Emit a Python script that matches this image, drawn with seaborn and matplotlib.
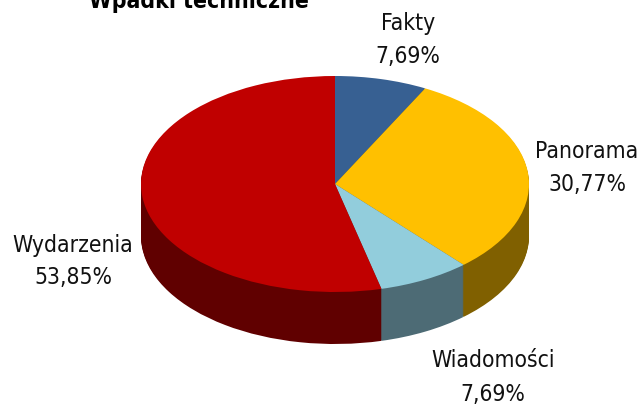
import matplotlib
matplotlib.use("Agg")
import matplotlib.pyplot as plt
import seaborn as sns

sns.set_theme(style="white")
plt.rcParams['font.family'] = ['DejaVu Sans']

categories = ["Fakty", "Panorama", "Wiadomości", "Wydarzenia"]
values = [7.69, 30.77, 7.69, 53.85]
value_labels = ["7,69%", "30,77%", "7,69%", "53,85%"]
top_colors = ["#376092", "#FFC000", "#92CDDC", "#C00000"]
side_colors = ["#1F3A5A", "#806000", "#4D6B75", "#600000"]
title = "Wpadki techniczne"

W, H = 641, 408
fig = plt.figure(figsize=(W / 100, H / 100), dpi=100, facecolor="white")
ax = fig.add_axes([0, 0, 1, 1])

cx, cy, rx, ry, depth = 335, 184, 194, 108, 52
squash = rx / ry  # data units per vertical pixel, so a circular pie shows as an ellipse

for d in range(depth, 0, -1):
    ax.pie(values, colors=side_colors, startangle=90, counterclock=False,
           center=(cx, -(cy + d) * squash), radius=rx, wedgeprops=dict(linewidth=0))
ax.pie(values, colors=top_colors, startangle=90, counterclock=False,
       center=(cx, -cy * squash), radius=rx, wedgeprops=dict(linewidth=0))

ax.set_aspect("auto")
ax.set_xlim(0, W)
ax.set_ylim(-H * squash, 0)
ax.axis("off")

label_pos = [(408, 30, 63), (587, 158, 191), (493, 367, 401), (73, 252, 284)]
for name, val, (x, y1, y2) in zip(categories, value_labels, label_pos):
    fig.text(x / W, 1 - y1 / H, name, ha="center", va="baseline", fontsize=16.4,
             stretch="condensed", color="#111111")
    fig.text(x / W, 1 - y2 / H, val, ha="center", va="baseline", fontsize=16.4,
             stretch="condensed", color="#111111")

fig.text(199 / W, 1 - 8 / H, title, ha="center", va="baseline", fontsize=16.5,
         fontweight="bold", stretch="condensed", color="black")

fig.savefig("out.png", dpi=100)
